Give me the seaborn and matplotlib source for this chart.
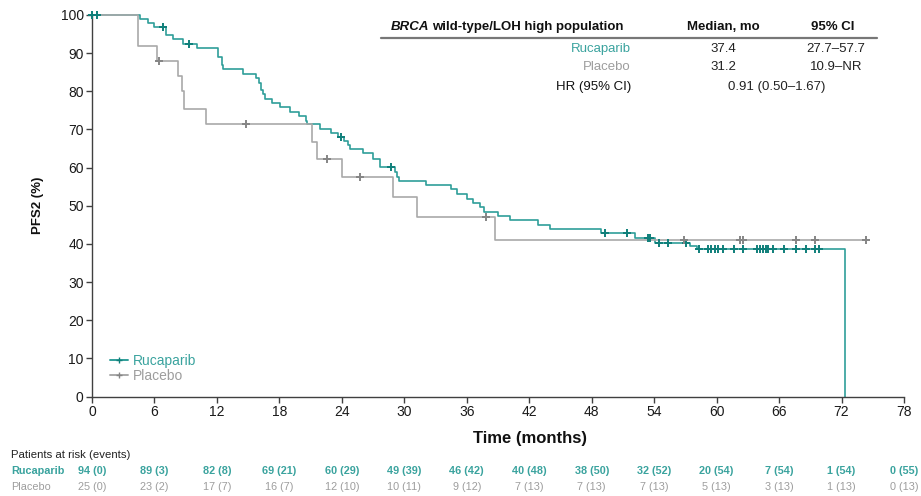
import numpy as np
import pandas as pd
import matplotlib
matplotlib.use("Agg")
import matplotlib.pyplot as plt
import matplotlib.transforms as mtransforms
from matplotlib.lines import Line2D
import seaborn as sns

# ---- Kaplan-Meier step data (drop times in months, survival % after each drop) ----
ruca_times = [0, 4.65, 5.4, 5.95, 7.1, 7.8, 8.7, 10.05, 12.13, 12.45, 12.6, 14.5,
              15.8, 16.0, 16.2, 16.4, 16.6, 17.26, 18.06, 19.02, 19.91, 20.56, 20.68,
              21.9, 23.0, 23.66, 24.2, 24.6, 24.8, 26.06, 27.0, 27.67, 29.1, 29.3,
              29.5, 32.1, 34.45, 35.1, 36.05, 36.6, 37.3, 37.65, 39.0, 40.15, 42.8,
              44.0, 48.9, 52.2, 54.05, 57.45, 58.1, 72.3]
ruca_surv = [100, 98.9, 97.9, 96.8, 94.7, 93.6, 92.5, 91.4, 89.1, 86.9, 85.8, 84.6,
             83.6, 82.1, 80.3, 79.2, 77.9, 76.9, 75.8, 74.65, 73.5, 72.3, 71.3,
             70.2, 69.2, 68.1, 67.1, 66.0, 64.8, 63.7, 62.3, 60.2, 58.9, 57.6,
             56.5, 55.4, 54.3, 53.1, 51.9, 50.8, 49.6, 48.45, 47.3, 46.2, 45.0,
             43.8, 42.8, 41.5, 40.3, 39.5, 38.7, 0]
ruca_censor = [0.0, 0.5, 6.85, 9.35, 23.9, 28.7, 49.3, 51.35, 53.4, 53.6, 54.5,
               55.35, 57.06, 58.34, 59.2, 59.5, 59.85, 60.16, 60.58, 61.67, 62.57,
               63.85, 64.17, 64.49, 64.75, 64.97, 65.39, 66.47, 67.63, 68.59, 69.45,
               69.87]

plac_times = [0, 4.4, 6.2, 8.3, 8.65, 8.8, 10.98, 21.1, 21.6, 24.0, 28.9, 31.2, 38.7]
plac_surv = [100, 92, 88, 84, 80, 75.3, 71.3, 66.8, 62.3, 57.5, 52.2, 47.0, 41.0]
plac_censor = [6.4, 14.76, 22.6, 25.7, 37.8, 56.9, 62.2, 62.5, 67.6, 69.45, 74.35]

# ---- Numbers at risk (events) ----
risk_times = list(range(0, 79, 6))
ruca_risk = ["94 (0)", "89 (3)", "82 (8)", "69 (21)", "60 (29)", "49 (39)", "46 (42)",
             "40 (48)", "38 (50)", "32 (52)", "20 (54)", "7 (54)", "1 (54)", "0 (55)"]
plac_risk = ["25 (0)", "23 (2)", "17 (7)", "16 (7)", "12 (10)", "10 (11)", "9 (12)",
             "7 (13)", "7 (13)", "7 (13)", "5 (13)", "3 (13)", "1 (13)", "0 (13)"]

# ---- Summary table ----
arms = ["Rucaparib", "Placebo"]
medians = ["37.4", "31.2"]
ci95 = ["27.7–57.7", "10.9–NR"]
hr_text = "0.91 (0.50–1.67)"

TEAL = "#2f9e99"
TEAL_DARK = "#0f7f7a"
TEAL_TEXT = "#3aa39e"
GREY = "#a9a9a9"
GREY_DARK = "#858585"
GREY_TEXT = "#9d9d9d"

sns.set_theme(style="white")
plt.rcParams["font.family"] = ["Liberation Sans", "DejaVu Sans"]


def step_at(times, surv, t):
    idx = np.searchsorted(times, t, side="right") - 1
    return np.asarray(surv)[idx]


# long-form frame for the step curves (placebo continues flat to its last censor)
curve = pd.concat([
    pd.DataFrame({"time": ruca_times, "surv": ruca_surv, "arm": "Rucaparib"}),
    pd.DataFrame({"time": plac_times + [max(plac_censor)],
                  "surv": plac_surv + [plac_surv[-1]], "arm": "Placebo"}),
])
cens = pd.concat([
    pd.DataFrame({"time": ruca_censor,
                  "surv": step_at(ruca_times, ruca_surv, ruca_censor), "arm": "Rucaparib"}),
    pd.DataFrame({"time": plac_censor,
                  "surv": step_at(plac_times, plac_surv, plac_censor), "arm": "Placebo"}),
])

fig = plt.figure(figsize=(9.21, 4.96), dpi=100)
ax = fig.add_axes([92 / 921, 1 - 396.5 / 496, 812 / 921, 381.5 / 496])

palette = {"Rucaparib": TEAL, "Placebo": GREY}
mark_pal = {"Rucaparib": TEAL_DARK, "Placebo": GREY_DARK}

sns.lineplot(data=curve, x="time", y="surv", hue="arm", palette=palette,
             drawstyle="steps-post", estimator=None, sort=False, linewidth=1.2,
             legend=False, ax=ax, clip_on=False)
for arm in arms:
    sub = cens[cens["arm"] == arm]
    ax.plot(sub["time"], sub["surv"], linestyle="none", marker="+", markersize=6,
            markeredgewidth=1.4, color=mark_pal[arm], clip_on=False, zorder=4)

ax.set_xlim(0, 78)
ax.set_ylim(0, 100)
ax.set_xticks(risk_times)
ax.set_yticks(range(0, 101, 10))
ax.tick_params(axis="both", which="both", direction="out", length=4, width=1,
               color="#404040", labelsize=10, labelcolor="#1a1a1a", pad=2,
               left=True, bottom=True)
for side in ["top", "right"]:
    ax.spines[side].set_visible(False)
for side in ["left", "bottom"]:
    ax.spines[side].set_color("#404040")
    ax.spines[side].set_linewidth(1.0)

ax.set_xlabel("")
ax.set_ylabel("PFS2 (%)", fontsize=9.5, fontweight="bold", color="#111111", labelpad=12)
fig.text(530 / 921, 1 - 438 / 496, "Time (months)", ha="center", va="center",
         fontsize=12, fontweight="bold", color="#111111")

# legend
handles = [Line2D([], [], color=palette[a], lw=1.4, marker="+", markersize=4,
                  markeredgewidth=1.0, markeredgecolor=mark_pal[a]) for a in arms]
leg = ax.legend(handles, arms, loc="lower left", bbox_to_anchor=(0.015, 0.02),
                frameon=False, fontsize=10, handlelength=1.3, handletextpad=0.4,
                labelspacing=0.1, borderaxespad=0)
for txt, c in zip(leg.get_texts(), [TEAL_TEXT, GREY_TEXT]):
    txt.set_color(c)


# summary table, top right
def fy(py):
    return 1 - py / 496


def fx(px):
    return px / 921


brca = fig.text(fx(391), fy(27), "BRCA", ha="left", va="center", fontsize=9.5,
                fontweight="bold", fontstyle="italic", color="#111111")
fig.canvas.draw()
bb = brca.get_window_extent()
fig.text(bb.x1 / fig.bbox.width + fx(3), fy(27), "wild-type/LOH high population",
         ha="left", va="center", fontsize=9.5, fontweight="bold", color="#111111")
fig.text(fx(723), fy(27), "Median, mo", ha="center", va="center", fontsize=9.5,
         fontweight="bold", color="#111111")
fig.text(fx(833), fy(27), "95% CI", ha="center", va="center", fontsize=9.5,
         fontweight="bold", color="#111111")
fig.add_artist(Line2D([fx(381), fx(877)], [fy(37.5), fy(37.5)], color="#777777",
                      lw=1.6, transform=fig.transFigure))
row_y = [49, 67]
for arm, med, ci, y, col in zip(arms, medians, ci95, row_y, [TEAL_TEXT, GREY_TEXT]):
    fig.text(fx(631), fy(y), arm, ha="right", va="center", fontsize=9.5, color=col)
    fig.text(fx(723), fy(y), med, ha="center", va="center", fontsize=9.5, color="#222222")
    fig.text(fx(836), fy(y), ci, ha="center", va="center", fontsize=9.5, color="#222222")
fig.text(fx(631), fy(87), "HR (95% CI)", ha="right", va="center", fontsize=9.5,
         color="#111111")
fig.text(fx(777), fy(87), hr_text, ha="center", va="center", fontsize=9.5,
         color="#222222")

# numbers at risk
trans = mtransforms.blended_transform_factory(ax.transData, fig.transFigure)
fig.text(fx(11), fy(455), "Patients at risk (events)", ha="left", va="center",
         fontsize=8.2, color="#222222")
fig.text(fx(11), fy(471), "Rucaparib", ha="left", va="center", fontsize=7.8,
         color=TEAL_TEXT, fontweight="bold")
fig.text(fx(11), fy(487), "Placebo", ha="left", va="center", fontsize=7.8,
         color=GREY_TEXT)
for t, r, p in zip(risk_times, ruca_risk, plac_risk):
    ax.text(t, fy(471), r, transform=trans, ha="center", va="center", fontsize=7.8,
            color=TEAL_TEXT, fontweight="bold", clip_on=False)
    ax.text(t, fy(487), p, transform=trans, ha="center", va="center", fontsize=7.8,
            color=GREY_TEXT, clip_on=False)

fig.savefig("out.png", dpi=100)
